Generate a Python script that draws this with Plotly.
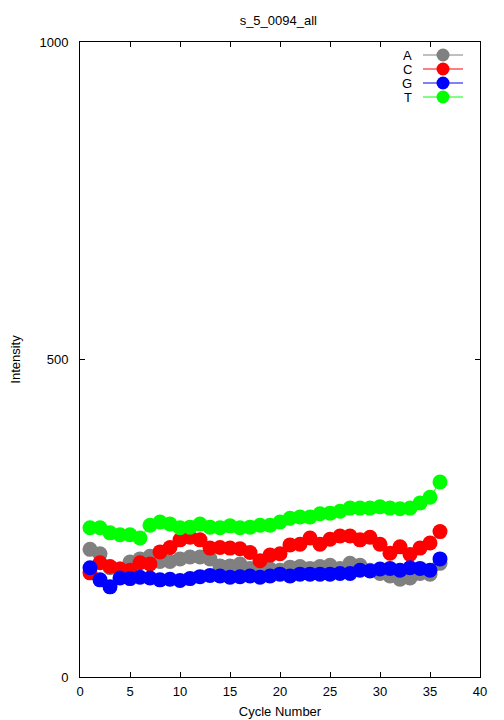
import plotly.graph_objects as go

title = "s_5_0094_all"
cycles = list(range(1, 37))
A = [201, 194, 172, 170, 181, 186, 190, 182, 182, 186, 189, 189, 186, 175, 175, 178, 171, 168, 170, 168,
     173, 174, 171, 174, 176, 171, 179, 176, 168, 163, 159, 154, 156, 163, 162, 179]
C = [164, 180, 174, 170, 168, 180, 178, 197, 204, 216, 220, 216, 203, 204, 203, 202, 196, 183, 192, 194,
     208, 209, 219, 209, 217, 222, 222, 216, 220, 209, 195, 205, 193, 203, 211, 229]
G = [172, 153, 142, 156, 155, 157, 156, 153, 154, 152, 155, 158, 160, 159, 157, 158, 159, 157, 159, 162,
     159, 162, 162, 162, 162, 163, 163, 168, 167, 170, 171, 168, 172, 171, 168, 186]
T = [235, 235, 227, 224, 224, 219, 239, 244, 241, 235, 236, 241, 236, 235, 238, 235, 236, 239, 239, 244,
     250, 252, 252, 257, 258, 261, 266, 266, 266, 268, 266, 265, 266, 274, 283, 307]
series_names = ["A", "C", "G", "T"]
series_vals = [A, C, G, T]
colors = ["#808080", "#ff0000", "#0000ff", "#00ff00"]
x_ticks = [0, 5, 10, 15, 20, 25, 30, 35, 40]
y_ticks = [0, 500, 1000]

FONT = "Liberation Sans, Arial, Helvetica, sans-serif"

fig = go.Figure()
for name, vals, col in zip(series_names, series_vals, colors):
    fig.add_trace(go.Scatter(
        x=cycles, y=vals, name=name, mode="lines+markers",
        line=dict(color=col, width=1),
        marker=dict(color=col, size=15, line=dict(width=0)),
        showlegend=False,
    ))

# manual gnuplot-style legend (text left, sample right), in pixel-like overlay coordinates
leg_y = [55, 69, 83, 97]
for name, col, yy in zip(series_names, colors, leg_y):
    fig.add_trace(go.Scatter(
        x=[423, 463], y=[yy, yy], mode="lines", line=dict(color=col, width=1),
        xaxis="x2", yaxis="y2", showlegend=False, hoverinfo="skip"))
    fig.add_trace(go.Scatter(
        x=[443], y=[yy], mode="markers", marker=dict(color=col, size=13, line=dict(width=0)),
        xaxis="x2", yaxis="y2", showlegend=False, hoverinfo="skip"))
    fig.add_annotation(x=414, y=yy, xref="x2", yref="y2", text=name, showarrow=False,
                       xanchor="right", yanchor="middle", font=dict(size=13, color="black", family=FONT))

axis_common = dict(
    showgrid=False, zeroline=False, showline=True, linecolor="black", linewidth=1,
    mirror="allticks", ticks="inside", ticklen=5, tickcolor="black", automargin=False,
    tickfont=dict(size=13, color="black", family=FONT),
)

# page body has an 8px default margin, so the figure is 8px smaller and margins compensate
fig.update_layout(
    width=496, height=712,
    margin=dict(l=72, r=24, t=34, b=43),
    paper_bgcolor="white", plot_bgcolor="white",
    title=dict(text=title, x=0.545, xanchor="center", y=0.983, yanchor="middle",
               font=dict(size=13, color="black", family=FONT)),
    xaxis=dict(range=[0, 40], tickvals=x_ticks, ticklabelstandoff=2,
               title=dict(text="Cycle Number", standoff=9, font=dict(size=13, color="black", family=FONT)),
               **axis_common),
    yaxis=dict(range=[0, 1000], tickvals=y_ticks, ticklabelstandoff=8,
               title=dict(text="Intensity", standoff=16, font=dict(size=13, color="black", family=FONT)),
               **axis_common),
    xaxis2=dict(range=[80, 480], overlaying="x", visible=False, fixedrange=True),
    yaxis2=dict(range=[677, 42], overlaying="y", visible=False, fixedrange=True),
    showlegend=False,
)

fig.write_html("out.html")
